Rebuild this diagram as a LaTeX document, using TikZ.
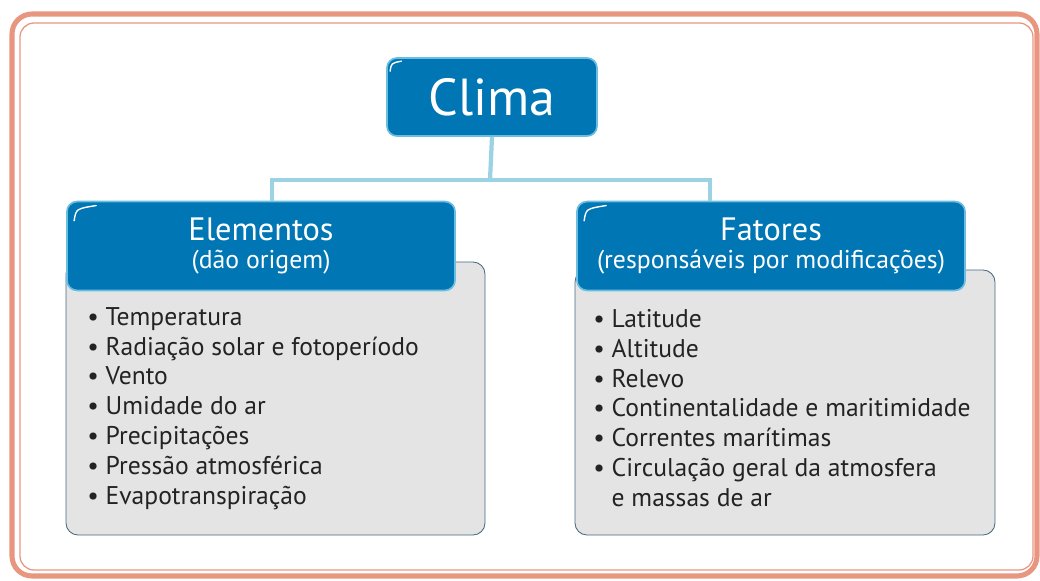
\documentclass[tikz,border=0pt]{standalone}
\usepackage{fontspec}
\setmainfont{PT Sans}
\usetikzlibrary{positioning}

\definecolor{framecol}{RGB}{232,150,128}
\definecolor{headblue}{RGB}{0,118,180}
\definecolor{headedge}{RGB}{105,190,225}
\definecolor{linkblue}{RGB}{155,210,228}
\definecolor{listgray}{RGB}{228,228,228}
\definecolor{listedge}{RGB}{70,105,125}
\definecolor{inkgray}{RGB}{35,35,35}

\tikzset{
  header/.style={fill=headblue, draw=headedge, line width=1.2pt, rounded corners=0.25cm,
    text=white, align=center, inner sep=0pt},
  listbox/.style={fill=listgray, draw=listedge, line width=0.6pt, rounded corners=0.3cm},
  listtext/.style={align=left, text=inkgray, inner sep=0pt,
    font=\fontsize{18.2}{21.2}\selectfont},
  link/.style={draw=linkblue, line width=3pt},
  gloss/.style={white, line width=1pt, line cap=round}
}

\begin{document}
\begin{tikzpicture}[x=0.025cm,y=-0.025cm]
\useasboundingbox (0,0) rectangle (1040,580);

% moldura
\draw[framecol, line width=3.6pt, rounded corners=0.5cm] (12,14) rectangle (1037,576);
\draw[framecol, line width=0.9pt, rounded corners=0.35cm] (20,23) rectangle (1033,570);

% caixas cinzentas
\draw[listbox] (66,262) rectangle (485,535);
\draw[listbox] (575,270) rectangle (995,535);

% titulos
\node[header, minimum width=5.25cm, minimum height=1.95cm, font=\fontsize{37}{40}\selectfont]
  (clima) at (492,97) {Clima};
\node[header, minimum width=9.7cm, minimum height=2.22cm, font=\fontsize{18.3}{20}\selectfont]
  (elem) at (261,246) {{\fontsize{23}{20}\selectfont Elementos}\\(dão origem)};
\node[header, minimum width=9.7cm, minimum height=2.22cm, font=\fontsize{18.3}{20}\selectfont]
  (fat) at (771,246) {{\fontsize{23}{20}\selectfont Fatores}\\(responsáveis por modificações)};

% brilho
\foreach \n in {elem,fat}
  \draw[gloss] ([xshift=0.2cm,yshift=-0.5cm]\n.north west) .. controls ([xshift=0.25cm,yshift=-0.2cm]\n.north west) .. ([xshift=0.75cm,yshift=-0.12cm]\n.north west);
\draw[gloss] ([xshift=0.1cm,yshift=-0.35cm]clima.north west) .. controls ([xshift=0.13cm,yshift=-0.15cm]clima.north west) .. ([xshift=0.38cm,yshift=-0.1cm]clima.north west);

% ligacoes
\coordinate (split) at (490,180);
\draw[link] (clima.south) -- (split);
\draw[link] (split) -| ([xshift=0.28cm]elem.north);
\draw[link] (split) -| ([xshift=-1.52cm]fat.north);

% listas
\node[listtext, anchor=north west] (elemlist) at (87,307) {%
  • Temperatura\\
  • Radiação solar e fotoperíodo\\
  • Vento\\
  • Umidade do ar\\
  • Precipitações\\
  • Pressão atmosférica\\
  • Evapotranspiração};
\node[listtext, anchor=north west] (fatlist) at (593,309) {%
  • Latitude\\
  • Altitude\\
  • Relevo\\
  • Continentalidade e maritimidade\\
  • Correntes marítimas\\
  • Circulação geral da atmosfera\\
  \hphantom{• }e massas de ar};
\end{tikzpicture}
\end{document}
